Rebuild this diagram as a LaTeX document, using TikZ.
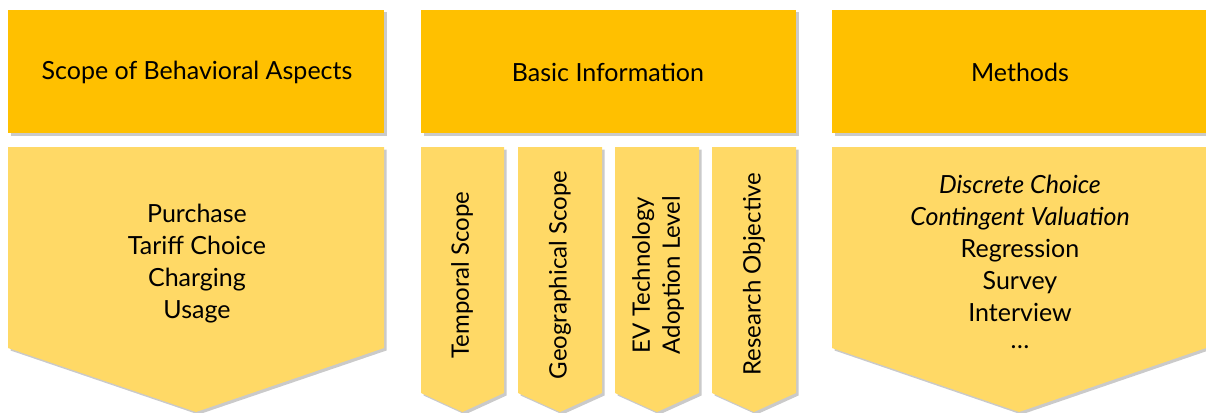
\documentclass[tikz,border=0pt]{standalone}
\usepackage{fontspec}
\setmainfont{Lato}
\usetikzlibrary{shadows}
\definecolor{hdr}{HTML}{FFC000}
\definecolor{body}{HTML}{FFD966}
\tikzset{
  sh/.style={drop shadow={shadow xshift=2.5pt, shadow yshift=-2.5pt, opacity=0.35, fill=black!60}},
  hdrbox/.style={fill=hdr, sh},
  bodyshape/.style={fill=body, sh},
  lbl/.style={font=\fontsize{25}{32}\selectfont, align=center, text=black, inner sep=0pt},
  vlbl/.style={lbl, font=\fontsize{24}{30}\selectfont, rotate=90},
}
\begin{document}
\begin{tikzpicture}[x=1pt,y=-1pt]
\useasboundingbox (0,0) rectangle (1206,412);
% headers
\path[hdrbox] (8,10) rectangle (384,133);
\path[hdrbox] (421,10) rectangle (796,133);
\path[hdrbox] (832,10) rectangle (1206,133);
\node[lbl] (h1) at (197,72) {Scope of Behavioral Aspects};
\node[lbl] (h2) at (608,72) {Basic Information};
\node[lbl] (h3) at (1020,72) {Methods};
% big chevrons
\path[bodyshape] (8,147) -- (384,147) -- (384,348) -- (196,412) -- (8,348) -- cycle;
\path[bodyshape] (832,147) -- (1206,147) -- (1206,348) -- (1019,412) -- (832,348) -- cycle;
% small chevrons
\foreach \a/\b in {421/504, 518/602, 615/699, 712/796}{
  \path[bodyshape] (\a,147) -- (\b,147) -- (\b,393) -- ({(\a+\b)/2},412) -- (\a,393) -- cycle;
}
\node[lbl] (b1) at (197,264) {Purchase\\Tariff Choice\\Charging\\Usage};
\node[lbl] (b3) at (1020,264) {\itshape Discrete Choice\\\itshape Contingent Valuation\\Regression\\Survey\\Interview\\\raisebox{0.2em}{\dots}};
\node[vlbl] (v1) at (462,275) {Temporal Scope};
\node[vlbl] (v2) at (560,275) {Geographical Scope};
\node[vlbl] (v3) at (658,275) {EV Technology\\Adoption Level};
\node[vlbl] (v4) at (754,274) {Research Objective};
\end{tikzpicture}
\end{document}
